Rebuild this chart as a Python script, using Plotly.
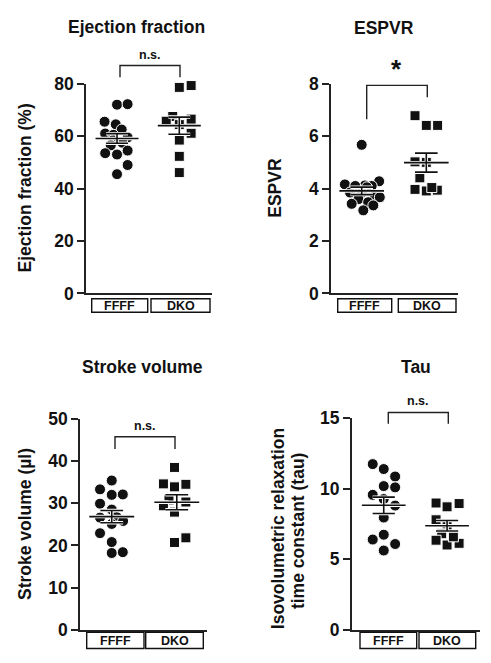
import numpy as np
import plotly.graph_objects as go

W, H = 491, 663

# ---------------- data ----------------
groups = ["FFFF", "DKO"]
titles = ["Ejection fraction", "ESPVR", "Stroke volume", "Tau"]
ytitles = ["Ejection fraction (%)", "ESPVR", "Stroke volume (µl)",
           ["Isovolumetric relaxation", "time constant (tau)"]]
sig_labels = ["n.s.", "*", "n.s.", "n.s."]

ef_ffff = [72.0, 72.2, 65.5, 64.5, 62.5, 61.0, 60.5, 59.5, 58.5, 57.5, 56.5, 53.5, 53.0, 54.5, 49.0, 45.5]
ef_dko = [79.3, 78.6, 67.5, 65.7, 66.5, 64.4, 61.1, 58.5, 52.3, 46.1]

espvr_ffff = [5.67, 4.28, 4.16, 4.12, 4.10, 4.10, 4.05, 3.85, 3.85, 3.73, 3.67, 3.60, 3.48, 3.42, 3.36, 3.17]
espvr_dko = [6.78, 6.41, 6.41, 5.02, 5.00, 4.41, 3.97, 3.91, 3.94, 4.04]

sv_ffff = [35.4, 33.3, 32.0, 32.1, 29.9, 28.5, 26.6, 26.7, 25.1, 25.8, 22.9, 20.8, 18.2, 18.4]
sv_dko = [38.5, 34.6, 33.9, 34.5, 30.8, 30.3, 29.4, 27.9, 20.7, 21.8]

tau_ffff = [11.75, 11.4, 10.87, 10.19, 10.1, 9.57, 9.27, 8.81, 7.96, 6.4, 6.74, 6.08, 5.62]
tau_dko = [8.99, 8.72, 8.95, 7.8, 7.39, 6.81, 6.35, 6.01, 6.13, 6.59]

yticks = [[0, 20, 40, 60, 80], [0, 2, 4, 6, 8], [0, 10, 20, 30, 40, 50], [0, 5, 10, 15]]

# ---------------- layout helpers (positions, not data) ----------------
# horizontal scatter offsets of each point within its column
ef_ffff_jit = [0, 0.17, -0.2, -0.02, 0.075, -0.19, -0.06, 0.17, -0.06, 0.085, -0.1, -0.19, 0, 0.17, 0.17, 0]
ef_dko_jit = [0.19, 0, -0.105, -0.21, 0.19, 0, 0.19, 0, 0, 0]
espvr_ffff_jit = [0, 0.27, -0.26, 0.05, -0.1, 0.155, 0.08, -0.18, 0, 0.2, 0.28, -0.05, 0.1, -0.155, 0.18, 0.025]
espvr_dko_jit = [-0.175, 0, 0.175, -0.175, 0, -0.1, -0.175, 0, 0.17, 0.085]
sv_ffff_jit = [0, -0.18, 0, 0.17, -0.18, 0, -0.18, 0.077, 0, 0.175, -0.18, 0, 0, 0.17]
sv_dko_jit = [-0.035, -0.205, -0.035, 0.14, -0.12, 0.14, -0.205, -0.035, -0.035, 0.14]
tau_ffff_jit = [-0.174, 0, 0.18, 0, 0.18, -0.174, 0, 0.18, 0, -0.174, 0, 0.18, 0]
tau_dko_jit = [-0.174, 0, 0.19, -0.174, 0, -0.085, -0.174, 0, 0.19, 0.1]

panels = [
    (ef_ffff, ef_dko, ef_ffff_jit, ef_dko_jit),
    (espvr_ffff, espvr_dko, espvr_ffff_jit, espvr_dko_jit),
    (sv_ffff, sv_dko, sv_ffff_jit, sv_dko_jit),
    (tau_ffff, tau_dko, tau_ffff_jit, tau_dko_jit),
]

# pixel geometry of each panel: axis x-left, x-right, y of zero, y of top tick
geom = [
    dict(x0=86, x1=212, yb=292.3, yt=76, xr=[-0.498, 1.525]),
    dict(x0=331, x1=458.3, yb=292.3, yt=76, xr=[-0.475, 1.495]),
    dict(x0=80, x1=206.7, yb=639, yt=421.7, xr=[-0.488, 1.46]),
    dict(x0=351.7, x1=480, yb=639, yt=421, xr=[-0.506, 1.52]),
]


def px(x):
    return x / W


def py(y):
    return 1 - y / H


FONT = "Liberation Sans, Arial, Helvetica, sans-serif"
INK = "#111111"
LINE = "#222222"

fig = go.Figure()
annotations = []
shapes = []

title_pos = [(136.7, 18), (384.3, 18.3), (142.8, 368.3), (416, 368.3)]
ytitle_pos = [(25, 184), (275, 183.3), (25, 530), None]
sig_pos = [(150, 46.7), (396.7, 61), (145, 429.3), (417.7, 403.3)]
bracket = [
    (120, 180, 57.3, 69.3, 69.3),
    (366.7, 427.3, 77.7, 112.7, 90),
    (115, 175, 440, 452.7, 452.7),
    (388.3, 448.3, 415, 426.7, 426.7),
]
boxes = [
    [(91.7, 147.7), (151, 210)],
    [(337.7, 391.7), (398.3, 456)],
    [(86.7, 144), (145.7, 203.3)],
    [(360, 416.7), (419, 475.7)],
]
box_y = [(297.7, 311.7), (297.7, 311.7), (641.7, 658.3), (641.7, 658.3)]

for i, (a, b, ja, jb) in enumerate(panels):
    g = geom[i]
    n = i + 1
    xa = "x" if n == 1 else f"x{n}"
    ya = "y" if n == 1 else f"y{n}"
    # points
    fig.add_trace(go.Scatter(
        x=[0 + j for j in ja], y=a, mode="markers", xaxis=xa, yaxis=ya,
        marker=dict(symbol="circle", size=11, color=INK, line=dict(color="white", width=1)),
        cliponaxis=False, showlegend=False, hoverinfo="y"))
    fig.add_trace(go.Scatter(
        x=[1 + j for j in jb], y=b, mode="markers", xaxis=xa, yaxis=ya,
        marker=dict(symbol="square", size=10, color=INK, line=dict(color="white", width=1)),
        cliponaxis=False, showlegend=False, hoverinfo="y"))
    # mean +/- SEM
    lx, ly = [], []
    for k, vals in enumerate([a, b]):
        v = np.asarray(vals, dtype=float)
        m = v.mean()
        s = v.std(ddof=1) / np.sqrt(len(v))
        lx += [k - 0.345, k + 0.345, None, k - 0.175, k + 0.175, None,
               k - 0.175, k + 0.175, None, k, k, None]
        ly += [m, m, None, m + s, m + s, None, m - s, m - s, None, m - s, m + s, None]
    fig.add_trace(go.Scatter(x=lx, y=ly, mode="lines", xaxis=xa, yaxis=ya,
                             line=dict(color="white", width=3.5), cliponaxis=False,
                             showlegend=False, hoverinfo="skip"))
    fig.add_trace(go.Scatter(x=lx, y=ly, mode="lines", xaxis=xa, yaxis=ya,
                             line=dict(color=INK, width=1.6), cliponaxis=False,
                             showlegend=False, hoverinfo="skip"))

    ticks = yticks[i]
    fig.update_layout(**{
        ("xaxis" if n == 1 else f"xaxis{n}"): dict(
            domain=[px(g["x0"]), px(g["x1"])], range=g["xr"], anchor=ya,
            showline=True, linecolor=LINE, linewidth=1.6, showgrid=False,
            zeroline=False, showticklabels=False, ticks="", fixedrange=True),
        ("yaxis" if n == 1 else f"yaxis{n}"): dict(
            domain=[py(g["yb"]), py(g["yt"])], range=[ticks[0], ticks[-1]], anchor=xa,
            showline=True, linecolor=LINE, linewidth=1.6, showgrid=False,
            zeroline=False, tickvals=ticks, ticks="outside", ticklen=7,
            tickwidth=1.6, tickcolor=LINE,
            tickfont=dict(family=FONT, size=17.5, color=INK, weight="bold"),
            fixedrange=True),
    })

    # title
    tx, ty = title_pos[i]
    annotations.append(dict(x=px(tx), y=py(ty), xref="paper", yref="paper",
                            text=f"<b>{titles[i]}</b>", showarrow=False,
                            xanchor="center", yanchor="middle",
                            font=dict(family=FONT, size=17.5, color=INK)))
    # y-axis title
    if ytitle_pos[i] is not None:
        yx, yy = ytitle_pos[i]
        annotations.append(dict(x=px(yx), y=py(yy), xref="paper", yref="paper",
                                text=f"<b>{ytitles[i]}</b>", showarrow=False, textangle=-90,
                                xanchor="center", yanchor="middle",
                                font=dict(family=FONT, size=17.5, color=INK)))
    else:
        for (lxp, lyp), line in zip([(278.3, 535), (298.3, 537)], ytitles[i]):
            annotations.append(dict(x=px(lxp), y=py(lyp), xref="paper", yref="paper",
                                    text=f"<b>{line}</b>", showarrow=False, textangle=-90,
                                    xanchor="center", yanchor="middle",
                                    font=dict(family=FONT, size=17.5, color=INK)))
    # significance
    sx, sy = sig_pos[i]
    annotations.append(dict(x=px(sx), y=py(sy), xref="paper", yref="paper",
                            text=f"<b>{sig_labels[i]}</b>", showarrow=False,
                            xanchor="center", yanchor="middle",
                            font=dict(family=FONT, size=(26 if sig_labels[i] == "*" else 12.5),
                                      color=INK)))
    bl, br, bt, bbl, bbr = bracket[i]
    path = f"M {px(bl)},{py(bbl)} L {px(bl)},{py(bt)} L {px(br)},{py(bt)} L {px(br)},{py(bbr)}"
    shapes.append(dict(type="path", path=path, xref="paper", yref="paper",
                       line=dict(color=LINE, width=1.4)))
    # category boxes
    y0, y1 = box_y[i]
    for (bx0, bx1), name in zip(boxes[i], groups):
        shapes.append(dict(type="rect", xref="paper", yref="paper",
                           x0=px(bx0), x1=px(bx1), y0=py(y1), y1=py(y0),
                           line=dict(color=INK, width=1.4), fillcolor="white"))
        annotations.append(dict(x=px((bx0 + bx1) / 2), y=py((y0 + y1) / 2 + 0.5),
                                xref="paper", yref="paper", text=f"<b>{name}</b>",
                                showarrow=False, xanchor="center", yanchor="middle",
                                font=dict(family=FONT, size=12.5, color=INK)))

fig.update_layout(
    width=W, height=H, margin=dict(l=0, r=0, t=0, b=0),
    paper_bgcolor="white", plot_bgcolor="white",
    annotations=annotations, shapes=shapes, showlegend=False,
)

fig.write_html("out.html", config={"displayModeBar": False})
